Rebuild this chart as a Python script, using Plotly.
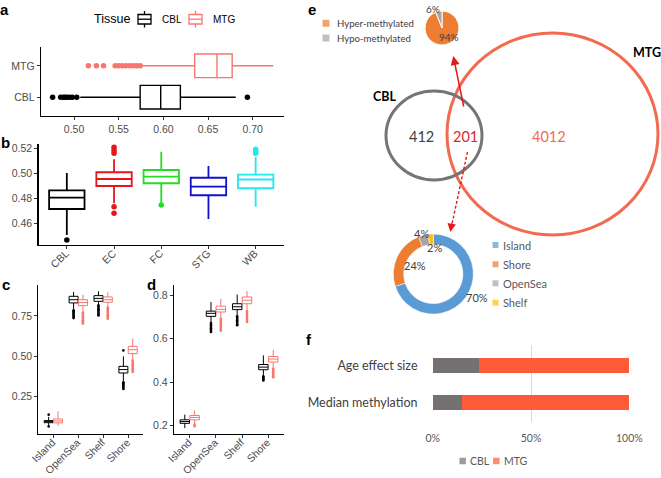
import plotly.graph_objects as go

W, H = 661, 478
FG = "Liberation Sans, Arial, sans-serif"
FX = "Lato, sans-serif"
CBL_COL = "#000000"
MTG_COL = "#F8766D"
TICK_COL = "#4D4D4D"

# ---------------- data ----------------
tissues = ["CBL", "MTG"]
# panel a (global methylation, horizontal boxes) order: CBL, MTG
a_q1 = [0.574, 0.635]
a_med = [0.597, 0.660]
a_q3 = [0.619, 0.677]
a_lo = [0.507, 0.576]
a_hi = [0.681, 0.723]
a_out_cbl = [0.476, 0.485, 0.488, 0.490, 0.492, 0.495, 0.498, 0.503, 0.694]
a_out_mtg = [0.516, 0.525, 0.533, 0.546, 0.550, 0.554, 0.558, 0.562, 0.566, 0.570, 0.574]

# panel b (brain regions)
b_regions = ["CBL", "EC", "FC", "STG", "WB"]
b_colors = ["#000000", "#E8141C", "#22DD22", "#1010C8", "#22E8EE"]
b_q1 = [0.4714, 0.4898, 0.4920, 0.4824, 0.4880]
b_med = [0.4805, 0.4954, 0.4973, 0.4893, 0.4950]
b_q3 = [0.4863, 0.5008, 0.5026, 0.4964, 0.4989]
b_lo = [0.4506, 0.4760, 0.4762, 0.4634, 0.4733]
b_hi = [0.5003, 0.5112, 0.5173, 0.5058, 0.5133]
b_out = [[0.4466], [0.5208, 0.5184, 0.5160, 0.4733, 0.4680], [0.4746], [], [0.5192, 0.5175, 0.5160]]

# panels c / d (CpG context)
cpg = ["Island", "OpenSea", "Shelf", "Shore"]
c_cbl = dict(q1=[0.089, 0.831, 0.841, 0.397], med=[0.096, 0.851, 0.859, 0.418],
             q3=[0.102, 0.872, 0.876, 0.438], lo=[0.075, 0.790, 0.820, 0.345],
             hi=[0.125, 0.899, 0.903, 0.500])
c_mtg = dict(q1=[0.088, 0.814, 0.835, 0.517], med=[0.100, 0.833, 0.851, 0.541],
             q3=[0.112, 0.851, 0.868, 0.562], lo=[0.070, 0.777, 0.808, 0.480],
             hi=[0.160, 0.882, 0.897, 0.610])
c_cbl_out = [[0.139, 0.066],
             [0.786, 0.779, 0.772, 0.765, 0.758, 0.751, 0.744, 0.737],
             [0.816, 0.808, 0.800, 0.792, 0.784, 0.776, 0.768, 0.760, 0.753],
             [0.537, 0.340, 0.333, 0.326, 0.319, 0.312, 0.305, 0.298]]
c_mtg_out = [[],
             [0.772, 0.764, 0.756, 0.748, 0.740, 0.732, 0.724, 0.716, 0.708, 0.703],
             [0.803, 0.796, 0.789, 0.782, 0.775, 0.768, 0.761, 0.754, 0.747, 0.740, 0.733],
             [0.475, 0.467, 0.459, 0.451, 0.443, 0.435, 0.427, 0.419, 0.411, 0.403]]
d_cbl = dict(q1=[0.211, 0.702, 0.733, 0.457], med=[0.219, 0.716, 0.746, 0.469],
             q3=[0.227, 0.726, 0.760, 0.481], lo=[0.189, 0.676, 0.707, 0.431],
             hi=[0.251, 0.768, 0.802, 0.523])
d_mtg = dict(q1=[0.227, 0.722, 0.760, 0.492], med=[0.238, 0.734, 0.776, 0.506],
             q3=[0.247, 0.749, 0.791, 0.518], lo=[0.209, 0.697, 0.730, 0.468],
             hi=[0.270, 0.783, 0.818, 0.549])
d_cbl_out = [[],
             [0.671, 0.665, 0.659, 0.653, 0.647, 0.641, 0.635, 0.630],
             [0.702, 0.696, 0.690, 0.684, 0.678, 0.672, 0.666, 0.661],
             [0.427, 0.422, 0.417, 0.412, 0.408]]
d_mtg_out = [[0.205, 0.198],
             [0.692, 0.685, 0.678, 0.671, 0.664, 0.657, 0.650, 0.643, 0.636],
             [0.725, 0.718, 0.711, 0.704, 0.697, 0.690, 0.683, 0.676],
             [0.463, 0.457, 0.451, 0.445, 0.439, 0.433, 0.427, 0.423]]

# panel e (Venn + pies)
venn_sets = ["CBL", "MTG"]
venn_counts = [412, 201, 4012]  # CBL only, shared, MTG only
pie1_labels = ["Hyper-methylated", "Hypo-methylated"]
pie1_values = [94, 6]
pie1_colors = ["#ED7D31", "#A5A5A5"]
pie2_labels = ["Island", "Shore", "OpenSea", "Shelf"]
pie2_values = [70, 24, 4, 2]
pie2_colors = ["#5B9BD5", "#ED7D31", "#A5A5A5", "#FFC000"]

# panel f (stacked proportions)
f_cats = ["Median methylation", "Age effect size"]
f_cbl = [14.7, 23.7]
f_mtg = [85.3, 76.3]
f_colors = ["#767171", "#FF5B3B"]

fig = go.Figure()


def px_x(p):
    return p / W


def px_y(p):
    return 1 - p / H


def add_box(xa, ya, pos, q1, med, q3, lo, hi, color, width, horizontal=False,
            name=None, lw=1.3):
    kw = dict(q1=[q1], median=[med], q3=[q3], lowerfence=[lo], upperfence=[hi],
              width=width, line=dict(color=color, width=lw),
              fillcolor="rgba(255,255,255,0)", whiskerwidth=0, boxpoints=False,
              xaxis=xa, yaxis=ya, name=name, showlegend=False,
              hoverinfo="skip")
    if horizontal:
        kw.update(y=[pos], orientation="h")
    else:
        kw.update(x=[pos])
    fig.add_trace(go.Box(**kw))


def add_pts(xa, ya, xs, ys, color, size):
    if len(xs) == 0:
        return
    fig.add_trace(go.Scatter(x=xs, y=ys, mode="markers", xaxis=xa, yaxis=ya,
                             marker=dict(color=color, size=size, line=dict(width=0)),
                             showlegend=False, hoverinfo="skip"))


# ---- panel a ----
a_cols = [CBL_COL, MTG_COL]
for i, t in enumerate(tissues):
    add_box("x", "y", i, a_q1[i], a_med[i], a_q3[i], a_lo[i], a_hi[i], a_cols[i],
            0.75, horizontal=True, name=t, lw=1.4)
add_pts("x", "y", a_out_cbl, [0] * len(a_out_cbl), CBL_COL, 5.5)
add_pts("x", "y", a_out_mtg, [1] * len(a_out_mtg), MTG_COL, 5.5)

# ---- panel b ----
for i, r in enumerate(b_regions):
    add_box("x2", "y2", i, b_q1[i], b_med[i], b_q3[i], b_lo[i], b_hi[i], b_colors[i],
            0.75, lw=1.8)
    add_pts("x2", "y2", [i] * len(b_out[i]), b_out[i], b_colors[i], 5.5)

# ---- panels c, d ----
for xa, ya, cb, mt, cbo, mto in [("x3", "y3", c_cbl, c_mtg, c_cbl_out, c_mtg_out),
                                 ("x4", "y4", d_cbl, d_mtg, d_cbl_out, d_mtg_out)]:
    for i, r in enumerate(cpg):
        for st, off, col, outs in [(cb, -0.1875, CBL_COL, cbo), (mt, 0.1875, MTG_COL, mto)]:
            add_box(xa, ya, i + off, st["q1"][i], st["med"][i], st["q3"][i],
                    st["lo"][i], st["hi"][i], col, 0.36, lw=1.0)
            add_pts(xa, ya, [i + off] * len(outs[i]), outs[i], col, 2.6)

# ---- panel f ----
for vals, nm, col in [(f_cbl, "CBL", f_colors[0]), (f_mtg, "MTG", f_colors[1])]:
    fig.add_trace(go.Bar(x=vals, y=[0, 1], orientation="h", name=nm, width=0.4,
                         marker=dict(color=col, line=dict(width=0)),
                         xaxis="x5", yaxis="y5", showlegend=False, hoverinfo="skip"))

# ---- pies ----
fig.add_trace(go.Pie(labels=pie1_labels, values=pie1_values, sort=False,
                     direction="clockwise", rotation=0,
                     marker=dict(colors=pie1_colors, line=dict(color="white", width=1)),
                     textinfo="none", showlegend=False, hoverinfo="skip",
                     domain=dict(x=[px_x(425), px_x(459)], y=[px_y(45), px_y(11)])))
fig.add_trace(go.Pie(labels=pie2_labels, values=pie2_values, sort=False, hole=0.74,
                     direction="clockwise", rotation=0,
                     marker=dict(colors=pie2_colors, line=dict(color="white", width=0.5)),
                     textinfo="none", showlegend=False, hoverinfo="skip",
                     domain=dict(x=[px_x(393.3), px_x(473.3)], y=[px_y(314), px_y(234)])))

# ---- overlay (pixel coordinates) legend squares ----
sq_x = [326, 326] + [495.5] * 4 + [462.7, 496.3]
sq_y = [23.3, 38.0, 245, 264.3, 283.3, 302.7, 461, 461]
sq_c = pie1_colors + pie2_colors + f_colors
sq_s = [7, 7, 6, 6, 6, 6, 6.5, 6.5]
fig.add_trace(go.Scatter(x=sq_x, y=sq_y, mode="markers", xaxis="x6", yaxis="y6",
                         marker=dict(symbol="square", color=sq_c, size=sq_s, line=dict(width=0)),
                         showlegend=False, hoverinfo="skip"))

axis_common = dict(showline=True, linecolor="black", linewidth=1.2, ticks="outside",
                   ticklen=3, tickwidth=1, tickcolor="#333333", showgrid=False,
                   zeroline=False, automargin=False,
                   tickfont=dict(family=FG, size=10.5, color=TICK_COL))
rot = dict(tickangle=-45, ticklabelshift=-1, ticklabelstandoff=-6)

layout = dict(
    width=W, height=H, margin=dict(l=0, r=0, t=0, b=0, pad=0, autoexpand=False),
    paper_bgcolor="white", plot_bgcolor="rgba(0,0,0,0)",
    barmode="stack", showlegend=False,
    # a
    xaxis=dict(domain=[px_x(41), px_x(284)], range=[0.463, 0.735], anchor="y",
               tickvals=[0.50, 0.55, 0.60, 0.65, 0.70],
               ticktext=["0.50", "0.55", "0.60", "0.65", "0.70"], **axis_common),
    yaxis=dict(domain=[px_y(116), px_y(47)], range=[-0.6, 1.6], anchor="x",
               tickvals=[0, 1], ticktext=tissues, **axis_common),
    # b
    xaxis2=dict(domain=[px_x(38.5), px_x(284)], range=[-0.6, 4.6], anchor="y2",
                tickvals=list(range(5)), ticktext=b_regions, **rot, **axis_common),
    yaxis2=dict(domain=[px_y(245), px_y(144)], range=[0.4426, 0.5234], anchor="x2",
                tickvals=[0.46, 0.48, 0.50, 0.52], ticktext=["0.46", "0.48", "0.50", "0.52"],
                **axis_common),
    # c
    xaxis3=dict(domain=[px_x(38.4), px_x(143)], range=[-0.6, 3.6], anchor="y3",
                tickvals=list(range(4)), ticktext=cpg, **rot, **axis_common),
    yaxis3=dict(domain=[px_y(434), px_y(285)], range=[0.019, 0.942], anchor="x3",
                tickvals=[0.25, 0.50, 0.75], ticktext=["0.25", "0.50", "0.75"], **axis_common),
    # d
    xaxis4=dict(domain=[px_x(174), px_x(284)], range=[-0.6, 3.6], anchor="y4",
                tickvals=list(range(4)), ticktext=cpg, **rot, **axis_common),
    yaxis4=dict(domain=[px_y(434), px_y(285)], range=[0.162, 0.846], anchor="x4",
                tickvals=[0.2, 0.4, 0.6, 0.8], ticktext=["0.2", "0.4", "0.6", "0.8"], **axis_common),
    # f
    xaxis5=dict(domain=[px_x(432.0), px_x(630.0)], range=[-0.35, 100.35], anchor="y5",
                tickvals=[0, 50, 100], ticktext=["0%", "50%", "100%"], showgrid=True,
                gridcolor="#D9D9D9", gridwidth=1, zeroline=False, showline=False,
                ticks="outside", ticklen=7, tickcolor="rgba(0,0,0,0)", automargin=False,
                tickfont=dict(family=FX, size=10.5, color="#595959")),
    yaxis5=dict(domain=[px_y(421.7), px_y(345)], range=[-0.51, 1.56], anchor="x5",
                tickvals=[0, 1], ticktext=f_cats, showgrid=False, zeroline=False,
                showline=False, ticks="outside", ticklen=11, tickcolor="rgba(0,0,0,0)",
                automargin=False, tickfont=dict(family=FX, size=12.5, color="#404040")),
    # overlay pixel axes
    xaxis6=dict(domain=[0, 1], range=[0, W], visible=False, anchor="y6", fixedrange=True),
    yaxis6=dict(domain=[0, 1], range=[H, 0], visible=False, anchor="x6", fixedrange=True),
)
fig.update_layout(**layout)

shapes = []
# Venn circles
shapes.append(dict(type="circle", xref="x6", yref="y6", x0=447, x1=658, y0=33, y1=235,
                   line=dict(color="#F26A50", width=3)))
shapes.append(dict(type="circle", xref="x6", yref="y6", x0=386, x1=482, y0=91, y1=180,
                   line=dict(color="#757575", width=3)))
# dashed arrow shaft
shapes.append(dict(type="line", xref="x6", yref="y6", x0=467.5, y0=152, x1=452, y1=224,
                   line=dict(color="#E01B1B", width=1.4, dash="3px,2px")))
# panel a legend keys (boxplot glyphs)
for cx, col in [(144.5, CBL_COL), (195.5, MTG_COL)]:
    shapes.append(dict(type="rect", xref="x6", yref="y6", x0=cx - 6.5, x1=cx + 6.5, y0=14.5, y1=24,
                       line=dict(color=col, width=1.3), fillcolor="rgba(0,0,0,0)"))
    shapes.append(dict(type="line", xref="x6", yref="y6", x0=cx - 6.5, x1=cx + 6.5, y0=19.2, y1=19.2,
                       line=dict(color=col, width=1.3)))
    shapes.append(dict(type="line", xref="x6", yref="y6", x0=cx, x1=cx, y0=11, y1=14.5,
                       line=dict(color=col, width=1.3)))
    shapes.append(dict(type="line", xref="x6", yref="y6", x0=cx, x1=cx, y0=24, y1=27.5,
                       line=dict(color=col, width=1.3)))
fig.update_layout(shapes=shapes)

ann = []


def txt(x, y, s, size, color, family=FX, bold=False, xanchor="center"):
    ann.append(dict(x=x, y=y, xref="x6", yref="y6", text=("<b>%s</b>" % s) if bold else s,
                    showarrow=False, xanchor=xanchor, yanchor="middle",
                    font=dict(family=family, size=size, color=color)))


# panel letters
for lab, x, y in [("a", 4, 9), ("b", 5, 142), ("c", 6, 284), ("d", 151, 284),
                  ("e", 312, 9), ("f", 309, 339)]:
    txt(x, y, lab, 15, "black", family=FG, bold=True)

# panel a legend text
txt(91.5, 19, "Tissue", 12.5, "black", family=FG, xanchor="left")
txt(159.5, 19, tissues[0], 10, "black", family=FG, xanchor="left")
txt(211.0, 19, tissues[1], 10, "black", family=FG, xanchor="left")

# Venn labels
txt(385, 96.5, venn_sets[0], 12.5, "black", bold=True)
txt(646.5, 52, venn_sets[1], 12.5, "black", bold=True)
txt(421.7, 136.5, str(venn_counts[0]), 14.5, "#404040")
txt(465.0, 136.5, str(venn_counts[1]), 14.5, "#D9262E")
txt(548.5, 136.5, str(venn_counts[2]), 14.5, "#F26A50")

# pie labels
txt(432.5, 9, "%d%%" % pie1_values[1], 10, "#404040")
txt(448.5, 36.5, "%d%%" % pie1_values[0], 10, "#404040")
txt(421.7, 233.3, "%d%%" % pie2_values[2], 11, "#404040")
txt(434.3, 247.7, "%d%%" % pie2_values[3], 11, "#404040")
txt(415.0, 265.0, "%d%%" % pie2_values[1], 11, "#404040")
txt(476.7, 297.7, "%d%%" % pie2_values[0], 11, "#404040")

# manual legends
txt(334.5, 23.3, pie1_labels[0], 9.6, "#404040", xanchor="left")
txt(334.5, 38.0, pie1_labels[1], 9.6, "#404040", xanchor="left")
for lab, y in zip(pie2_labels, [245, 264.3, 283.3, 302.7]):
    txt(500.7, y, lab, 11, "#595959", xanchor="left")
txt(467.5, 461, "CBL", 10.5, "#595959", xanchor="left")
txt(501.5, 461, "MTG", 10.5, "#595959", xanchor="left")

# arrows
ann.append(dict(x=453.3, y=56, ax=464, ay=108, xref="x6", yref="y6", axref="x6", ayref="y6",
                showarrow=True, arrowhead=2, arrowsize=1.2, arrowwidth=1.5,
                arrowcolor="#E01B1B", text=""))
ann.append(dict(x=450.3, y=232, ax=452, ay=222, xref="x6", yref="y6", axref="x6", ayref="y6",
                showarrow=True, arrowhead=2, arrowsize=1.2, arrowwidth=1.4,
                arrowcolor="#E01B1B", text=""))
fig.update_layout(annotations=ann)

fig.write_html("out.html", config={"displayModeBar": False, "staticPlot": True},
               post_script="document.body.style.margin='0px';document.body.style.overflow='hidden';")
